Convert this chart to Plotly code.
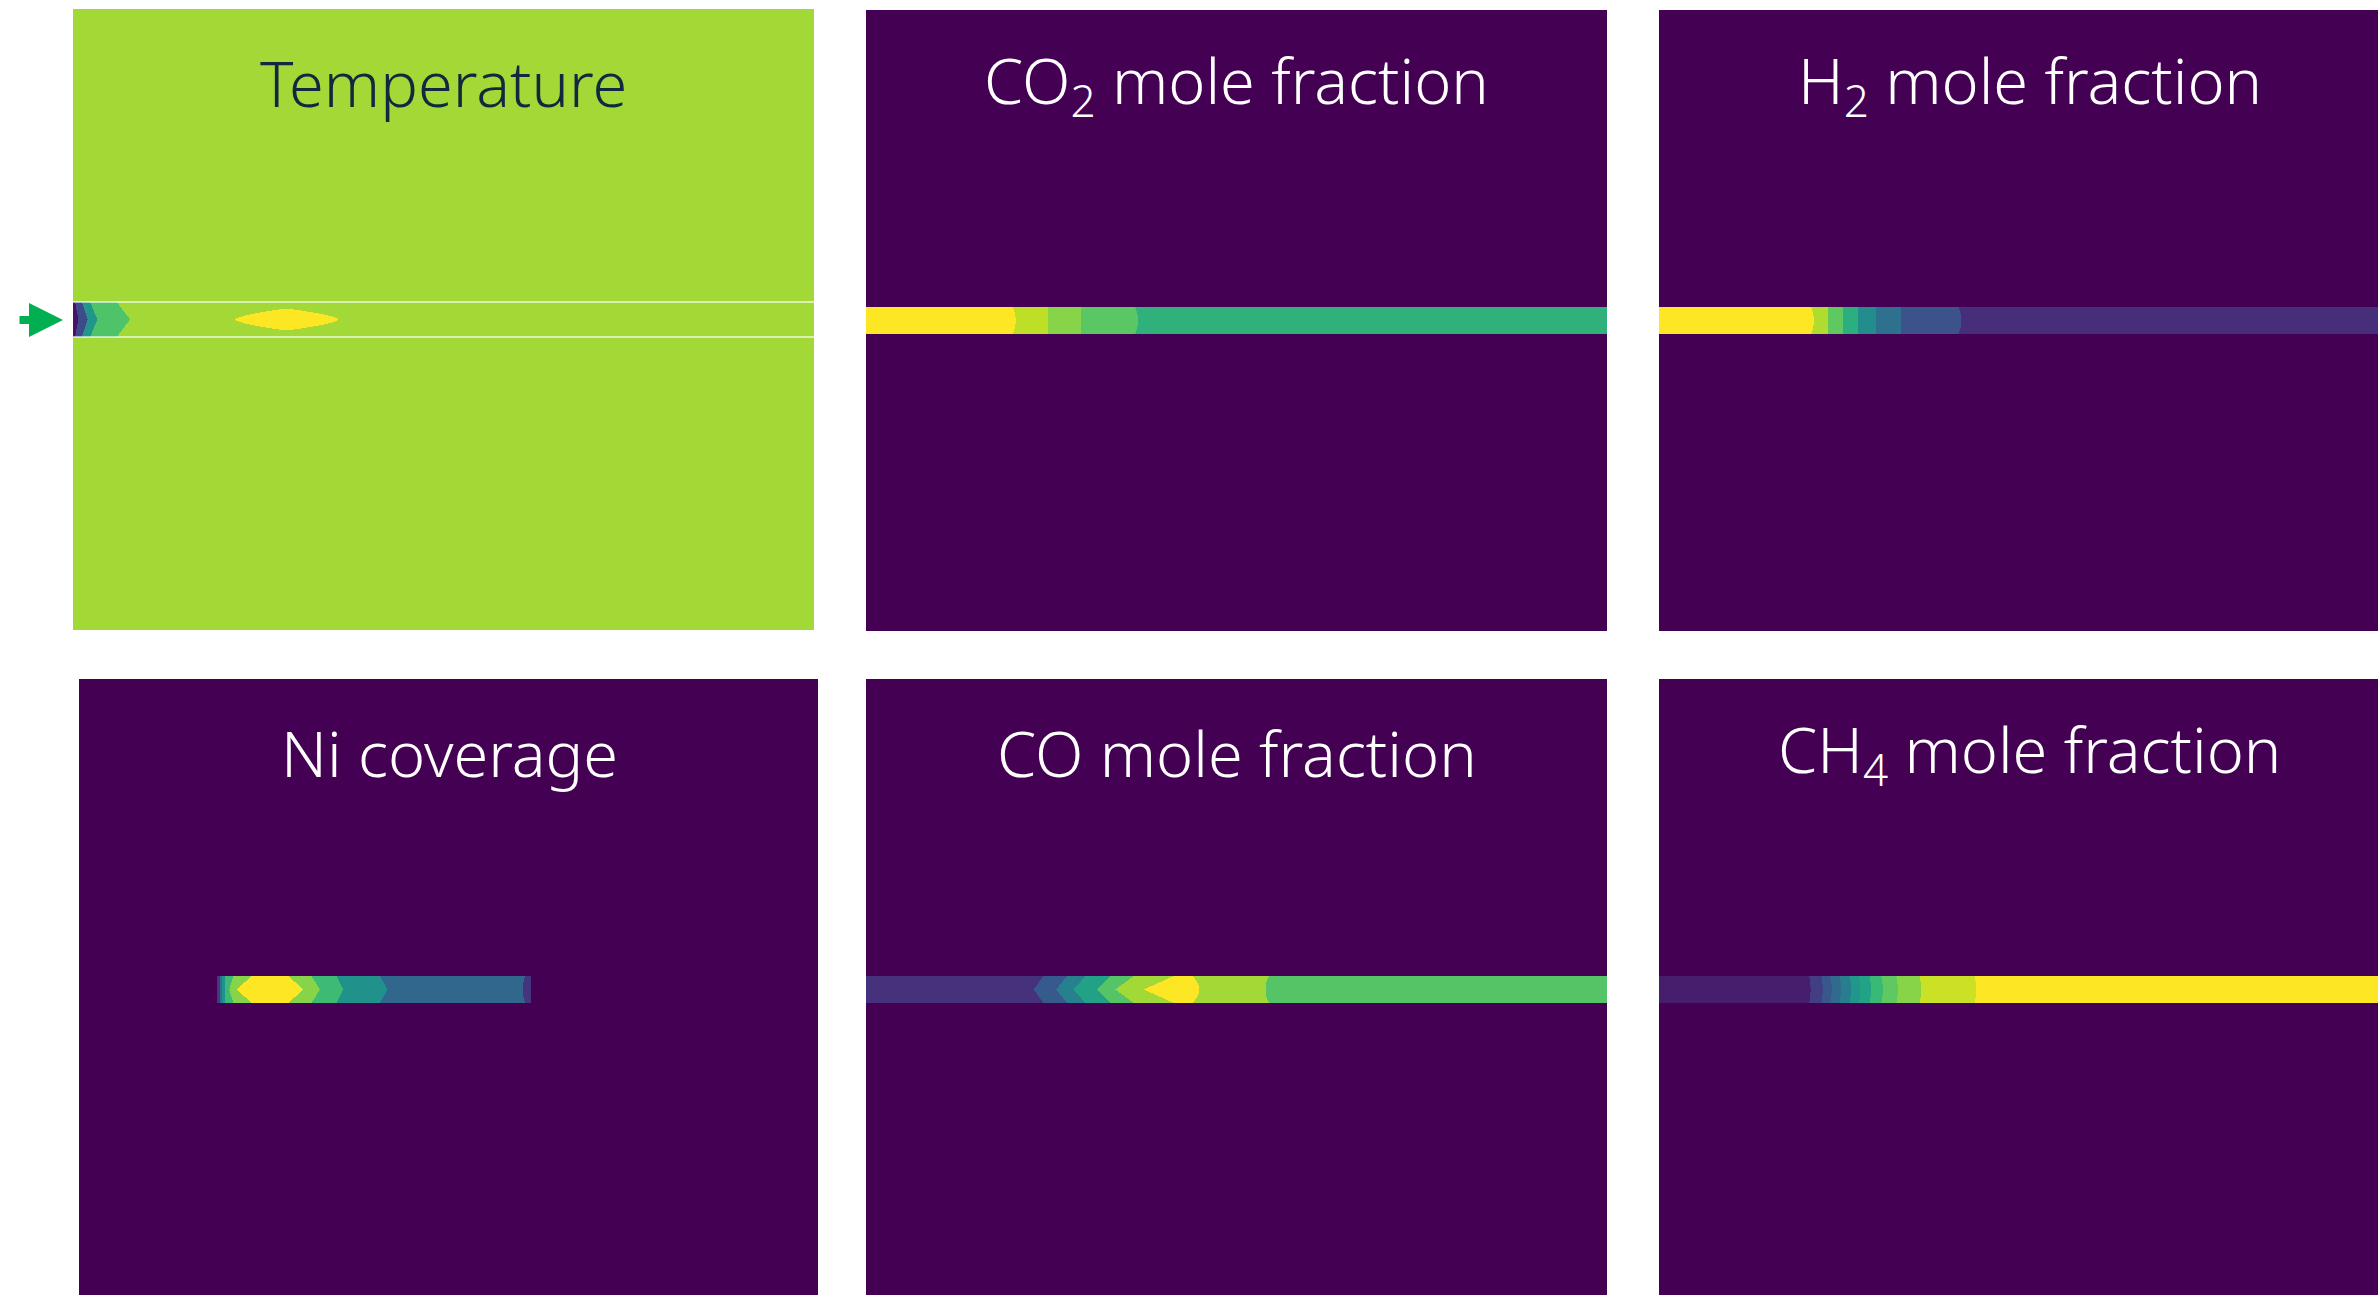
import numpy as np
import plotly.graph_objects as go

W, H = 2378, 1295

# ---- data: axial band boundaries (fraction of reactor length) ----
# each band: (end at channel centre, end at channel wall, colour level[, profile exponent])
temp_bands = [
    (0.007, 0.003, 0.05),
    (0.020, 0.012, 0.23),
    (0.033, 0.023, 0.52),
    (0.077, 0.059, 0.72),
    (0.219, 0.3645, 0.86, 1.6),
    (0.358, 0.2125, 1.00, 1.6),
    (1.000, 1.000, 0.86),
]
co2_bands = [
    (0.202, 0.198, 1.00, 2),
    (0.246, 0.246, 0.90),
    (0.290, 0.290, 0.82),
    (0.367, 0.363, 0.74, 2),
    (1.000, 1.000, 0.64),
]
h2_bands = [
    (0.209, 0.205, 1.00, 2),
    (0.2284, 0.2284, 0.88),
    (0.2486, 0.2486, 0.75),
    (0.268, 0.268, 0.63),
    (0.293, 0.293, 0.48),
    (0.326, 0.326, 0.37),
    (0.408, 0.404, 0.25, 2),
    (1.000, 1.000, 0.13),
]
ni_bands = [
    (0.1869, 0.1869, 0.00),
    (0.1905, 0.1905, 0.17),
    (0.1936, 0.1936, 0.37),
    (0.1973, 0.1973, 0.50),
    (0.2031, 0.2085, 0.68),
    (0.2131, 0.2334, 0.82),
    (0.3031, 0.2828, 1.00),
    (0.3257, 0.3140, 0.82),
    (0.3572, 0.3482, 0.68),
    (0.4166, 0.4068, 0.50),
    (0.5996, 0.6027, 0.33, 2),
    (0.6104, 0.6104, 0.15),
    (1.000, 1.000, 0.00),
]
co_bands = [
    (0.2261, 0.2396, 0.14),
    (0.2568, 0.2712, 0.28),
    (0.2802, 0.2959, 0.43),
    (0.3117, 0.3297, 0.57),
    (0.3365, 0.3613, 0.73),
    (0.3748, 0.4153, 0.86),
    (0.4500, 0.4401, 1.00, 2),
    (0.5392, 0.5437, 0.86, 2),
    (1.000, 1.000, 0.73),
]
ch4_bands = [
    (0.2045, 0.2025, 0.08, 2),
    (0.2209, 0.2189, 0.18, 2),
    (0.2330, 0.2310, 0.27, 2),
    (0.2456, 0.2436, 0.35, 2),
    (0.2591, 0.2571, 0.42, 2),
    (0.2717, 0.2697, 0.52, 2),
    (0.2861, 0.2841, 0.58, 2),
    (0.3020, 0.3000, 0.67, 2),
    (0.3222, 0.3202, 0.75, 2),
    (0.3537, 0.3517, 0.82, 2),
    (0.4280, 0.4260, 0.92, 2),
    (1.000, 1.000, 1.00),
]

titles = ["Temperature", "CO<sub>2</sub> mole fraction", "H<sub>2</sub> mole fraction",
          "Ni coverage", "CO mole fraction", "CH<sub>4</sub> mole fraction"]
background_levels = [0.86, 0.0, 0.0, 0.0, 0.0, 0.0]
all_bands = [temp_bands, co2_bands, h2_bands, ni_bands, co_bands, ch4_bands]

viridis = [
    [0.0, "#440154"], [0.1, "#482475"], [0.2, "#414487"], [0.3, "#355f8d"],
    [0.4, "#2a788e"], [0.5, "#21918c"], [0.6, "#22a884"], [0.7, "#44bf70"],
    [0.8, "#7ad151"], [0.9, "#bddf26"], [1.0, "#fde725"],
]

# ---- layout (window pixels) ----
# panel boxes: (left, top, right, bottom, full width px, full height px, channel px)
panels = [
    (73, 9, 814, 630, 741, 621, 35),
    (866, 10, 1607, 631, 741, 621, 27),
    (1659, 10, 2378, 631, 741, 621, 27),
    (79, 679, 818, 1295, 740, 620, 27),
    (866, 679, 1607, 1295, 741, 620, 27),
    (1659, 679, 2378, 1295, 741, 620, 27),
]
title_colors = ["#10293f", "white", "white", "white", "white", "white"]


def raster(bands, bg, ncols, nrows):
    xc = (np.arange(ncols) + 0.5) / ncols
    rows = []
    for r in range(nrows):
        t = abs((r + 0.5) / nrows * 2 - 1)
        row = np.full(ncols, np.nan)
        filled = np.zeros(ncols, bool)
        for b in bands:
            c, e, v = b[0], b[1], b[2]
            p = b[3] if len(b) > 3 else 1
            bound = c + (e - c) * t ** p
            sel = (~filled) & (xc < bound)
            row[sel] = v
            filled |= sel
        row[~filled] = bg
        rows.append(row)
    bgrow = np.full(ncols, bg)
    return [bgrow] + rows + [bgrow]


def px(x):
    return x / W


def py(y):
    return 1 - y / H


fig = go.Figure()
annotations = []
shapes = []
for i, (bands, bg, title, (L, T, R, B, fw, fh, ch)) in enumerate(
        zip(all_bands, background_levels, titles, panels)):
    k = "" if i == 0 else str(i + 1)
    ncols = fw
    half = ch / 2 / fh
    z = raster(bands, bg, ncols, ch)
    xe = np.linspace(0, 1, ncols + 1)
    ye = np.concatenate([[0], np.linspace(0.5 - half, 0.5 + half, ch + 1), [1]])
    fig.add_trace(go.Heatmap(z=z, x=xe, y=ye, colorscale=viridis, zmin=0, zmax=1,
                             showscale=False, zsmooth=False, hoverinfo="skip",
                             xaxis="x" + k, yaxis="y" + k))
    vis_w = (R - L) / fw
    vis_h = (B - T) / fh
    fig.update_layout(**{
        "xaxis" + k: dict(domain=[max(px(L), 0), min(px(R), 1)], range=[0, vis_w],
                          visible=False, anchor="y" + k, fixedrange=True),
        "yaxis" + k: dict(domain=[max(py(B), 0), min(py(T), 1)], range=[1 - vis_h, 1],
                          visible=False, anchor="x" + k, fixedrange=True),
    })
    annotations.append(dict(text=title, xref="paper", yref="paper", x=px(L + fw / 2),
                            y=py(T + 73), xanchor="center", yanchor="middle",
                            showarrow=False,
                            font=dict(family="Noto Sans", size=63, color=title_colors[i],
                                      weight=300)))
    if i == 0:
        for yy in (0.5 - half, 0.5 + half):
            shapes.append(dict(type="line", xref="x", yref="y", x0=0, x1=1, y0=yy, y1=yy,
                               line=dict(color="rgba(255,255,255,0.8)", width=1.5)))

# inlet arrow
annotations.append(dict(text="", xref="paper", yref="paper", x=px(63), y=py(320),
                        ax=-45, ay=0, showarrow=True, arrowhead=2, arrowsize=0.85,
                        arrowwidth=8, arrowcolor="#00b050"))

fig.update_layout(width=W, height=H, margin=dict(l=0, r=0, t=0, b=0),
                  paper_bgcolor="white", plot_bgcolor="white",
                  annotations=annotations, shapes=shapes, showlegend=False)
fig.write_html("out.html", config={"displayModeBar": False, "staticPlot": True},
               post_script="document.body.style.margin='0';"
                           "document.body.style.overflow='hidden';"
                           "document.documentElement.style.overflow='hidden';")
